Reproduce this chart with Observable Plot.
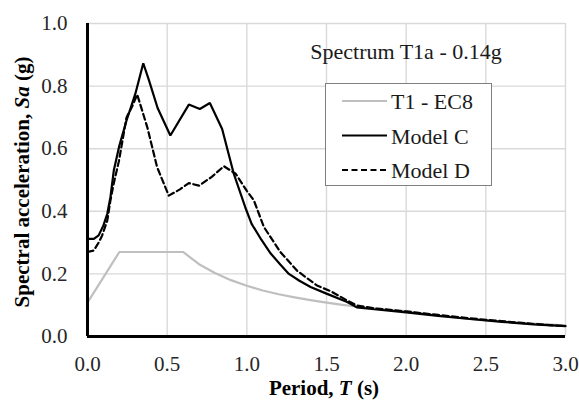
<!DOCTYPE html>
<html><head><meta charset="utf-8">
<script src="https://cdn.jsdelivr.net/npm/d3@7"></script>
<script src="https://cdn.jsdelivr.net/npm/@observablehq/plot@0.6"></script>
<style>body{margin:0;background:#fff} #chart{width:579px;height:401px}</style>
</head><body><div id="chart"></div>
<script>
const xTicks = [0, 0.5, 1.0, 1.5, 2.0, 2.5, 3.0];
const yTicks = [0, 0.2, 0.4, 0.6, 0.8, 1.0];
const seriesNames = ["T1 - EC8", "Model C", "Model D"];
const annotation = "Spectrum T1a - 0.14g";

const ec8T  = [0, 0.2, 0.6, 0.7, 0.8, 0.9, 1.0, 1.1, 1.2, 1.3, 1.4, 1.5, 1.6, 1.7, 1.8, 1.9, 2.0, 2.2, 2.4, 2.6, 2.8, 3.0];
const ec8Sa = [0.108, 0.27, 0.27, 0.231, 0.203, 0.18, 0.162, 0.147, 0.135, 0.125, 0.116, 0.108, 0.101, 0.095, 0.09, 0.085, 0.081, 0.067, 0.056, 0.048, 0.041, 0.036];

const modelCT  = [0, 0.04, 0.07, 0.10, 0.124, 0.144, 0.165, 0.2, 0.245, 0.3, 0.35, 0.385, 0.44, 0.52, 0.636, 0.705, 0.768, 0.845, 0.918, 0.99, 1.03, 1.09, 1.15, 1.21, 1.264, 1.33, 1.40, 1.5, 1.63, 1.69, 1.8, 2.0, 2.2, 2.4, 2.6, 2.8, 3.0];
const modelCSa = [0.312, 0.312, 0.323, 0.355, 0.392, 0.445, 0.53, 0.61, 0.69, 0.775, 0.873, 0.82, 0.73, 0.642, 0.741, 0.727, 0.746, 0.663, 0.52, 0.413, 0.36, 0.31, 0.265, 0.23, 0.20, 0.178, 0.158, 0.137, 0.11, 0.093, 0.087, 0.077, 0.066, 0.056, 0.047, 0.039, 0.033];

const modelDT  = [0, 0.04, 0.07, 0.092, 0.124, 0.144, 0.165, 0.197, 0.245, 0.28, 0.312, 0.375, 0.437, 0.51, 0.58, 0.636, 0.70, 0.78, 0.856, 0.93, 1.0, 1.044, 1.107, 1.21, 1.316, 1.44, 1.525, 1.63, 1.69, 1.8, 2.0, 2.2, 2.4, 2.6, 2.8, 3.0];
const modelDSa = [0.27, 0.275, 0.30, 0.323, 0.37, 0.435, 0.49, 0.56, 0.70, 0.735, 0.773, 0.669, 0.541, 0.45, 0.47, 0.49, 0.482, 0.51, 0.544, 0.52, 0.465, 0.435, 0.35, 0.27, 0.21, 0.163, 0.145, 0.115, 0.099, 0.09, 0.08, 0.069, 0.058, 0.049, 0.04, 0.033];

const toRows = (T, S) => T.map((t, i) => ({T: t, Sa: S[i]}));
const ec8 = toRows(ec8T, ec8Sa);
const modelC = toRows(modelCT, modelCSa);
const modelD = toRows(modelDT, modelDSa);

const styles = [
  {stroke: "#bfbfbf", width: 2.2, dash: null},
  {stroke: "#000", width: 2.2, dash: null},
  {stroke: "#000", width: 2.2, dash: "6,3.5"}
];

const serif = "'Liberation Serif', 'Times New Roman', serif";
const fmt = d3.format(".1f");

const plot = Plot.plot({
  width: 579, height: 401,
  marginLeft: 87, marginRight: 14, marginTop: 23, marginBottom: 65,
  style: {fontFamily: serif, fontSize: "21px", background: "#fff", color: "#262626"},
  x: {domain: [0, 3]},
  y: {domain: [0, 1]},
  marks: [
    Plot.gridX(xTicks.filter(d => d > 0), {stroke: "#d9d9d9", strokeOpacity: 1, strokeWidth: 1.4}),
    Plot.gridY(yTicks.filter(d => d > 0), {stroke: "#d9d9d9", strokeOpacity: 1, strokeWidth: 1.4}),
    Plot.axisX(xTicks, {tickSize: 0, tickPadding: 20, tickFormat: fmt, label: null, fontSize: 21}),
    Plot.axisY(yTicks, {tickSize: 0, tickPadding: 20, tickFormat: fmt, label: null, fontSize: 21}),
    Plot.line(ec8, {x: "T", y: "Sa", stroke: styles[0].stroke, strokeWidth: styles[0].width}),
    Plot.line(modelC, {x: "T", y: "Sa", stroke: styles[1].stroke, strokeWidth: styles[1].width, strokeLinejoin: "miter"}),
    Plot.line(modelD, {x: "T", y: "Sa", stroke: styles[2].stroke, strokeWidth: styles[2].width, strokeDasharray: styles[2].dash}),
    Plot.ruleX([0], {stroke: "#000", strokeWidth: 3}),
    Plot.ruleY([0], {stroke: "#000", strokeWidth: 3})
  ]
});

const svg = d3.select(plot);
// force the serif face on the library's tick labels
svg.selectAll("text").style("font-family", serif).style("font-size", "21px").attr("fill", "#262626");

// axis titles
const xt = svg.append("text").attr("x", 324).attr("y", 395).attr("text-anchor", "middle")
  .style("font-family", serif).style("font-size", "21px").attr("font-weight", "bold").attr("fill", "#000");
xt.append("tspan").text("Period, ");
xt.append("tspan").attr("font-style", "italic").text("T");
xt.append("tspan").text(" (s)");

const yt = svg.append("text").attr("transform", "translate(29,182) rotate(-90)").attr("text-anchor", "middle")
  .style("font-family", serif).style("font-size", "21px").attr("font-weight", "bold").attr("fill", "#000");
yt.append("tspan").text("Spectral acceleration, ");
yt.append("tspan").attr("font-style", "italic").text("Sa");
yt.append("tspan").text(" (g)");

// annotation
svg.append("text").attr("x", 406).attr("y", 59).attr("text-anchor", "middle")
  .style("font-family", serif).style("font-size", "22px").attr("fill", "#1a1a1a").text(annotation);

// legend
const lg = svg.append("g");
lg.append("rect").attr("x", 325.5).attr("y", 83.5).attr("width", 166).attr("height", 102)
  .attr("fill", "#fff").attr("stroke", "#7f7f7f").attr("stroke-width", 1);
seriesNames.forEach((name, i) => {
  const cy = 101 + i * 34.5;
  const ln = lg.append("line").attr("x1", 342).attr("x2", 387).attr("y1", cy).attr("y2", cy)
    .attr("stroke", styles[i].stroke).attr("stroke-width", styles[i].width);
  if (styles[i].dash) ln.attr("stroke-dasharray", styles[i].dash);
  lg.append("text").attr("x", 391).attr("y", cy + 8).attr("text-anchor", "start")
    .style("font-family", serif).style("font-size", "22px").attr("fill", "#1a1a1a").text(name);
});

document.getElementById("chart").appendChild(plot);
</script>
</body></html>
